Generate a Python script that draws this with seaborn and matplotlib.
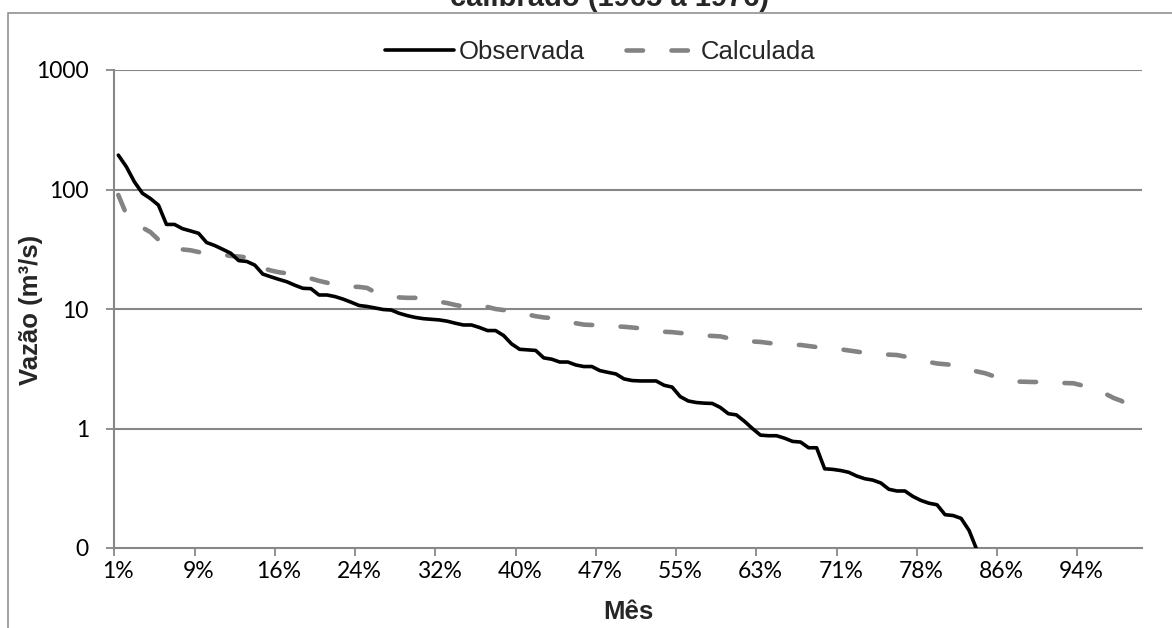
import matplotlib
matplotlib.use("Agg")
import matplotlib.pyplot as plt
import matplotlib.patches as mpatches
from matplotlib.ticker import FixedLocator, FixedFormatter, NullFormatter
import seaborn as sns
import pandas as pd

# ---------------- data ----------------
observada = [194, 155, 116, 93, 84, 74, 51, 51, 47, 45,
             43, 36, 34, 31.6, 29.3, 25.4, 25, 23.3, 19.6, 18.6,
             17.7, 16.9, 15.8, 14.9, 14.8, 13.1, 13.1, 12.7, 12.1, 11.4,
             10.7, 10.5, 10.2, 9.9, 9.8, 9.2, 8.8, 8.5, 8.3, 8.2,
             8.1, 7.9, 7.6, 7.35, 7.35, 7.0, 6.6, 6.6, 6.0, 5.1,
             4.6, 4.55, 4.5, 3.9, 3.8, 3.6, 3.6, 3.4, 3.3, 3.3,
             3.05, 2.95, 2.86, 2.6, 2.52, 2.5, 2.5, 2.5, 2.3, 2.22,
             1.85, 1.7, 1.65, 1.63, 1.62, 1.5, 1.33, 1.30, 1.15, 1.0,
             0.88, 0.87, 0.87, 0.83, 0.78, 0.77, 0.69, 0.69, 0.46, 0.455,
             0.445, 0.43, 0.40, 0.38, 0.37, 0.35, 0.31, 0.30, 0.30, 0.27,
             0.25, 0.237, 0.23, 0.19, 0.187, 0.177, 0.14, 0.095]

calculada = [90, 62, 52, 48, 44, 38, 33, 32, 31.5, 31,
             30, 29, 28.8, 28.5, 27.8, 27.5, 27, 26, 22, 21,
             20.3, 19.9, 19.5, 18.9, 18, 17.2, 16.6, 16, 15.5, 15.4,
             15.3, 15, 13.8, 13.2, 12.8, 12.5, 12.4, 12.4, 12.3, 12.0,
             11.5, 11.2, 10.8, 10.5, 10.6, 10.7, 10.4, 10.0, 9.8, 9.6,
             9.4, 9.0, 8.7, 8.5, 8.4, 8.2, 7.9, 7.6, 7.4, 7.35,
             7.3, 7.2, 7.15, 7.1, 7.0, 6.9, 6.7, 6.5, 6.45, 6.4,
             6.3, 6.2, 6.05, 6.0, 5.95, 5.9, 5.7, 5.45, 5.4, 5.35,
             5.3, 5.2, 5.1, 5.05, 5.0, 5.0, 4.9, 4.8, 4.75, 4.7,
             4.6, 4.5, 4.4, 4.3, 4.22, 4.18, 4.15, 4.12, 4.0, 3.85,
             3.7, 3.6, 3.5, 3.45, 3.4, 3.3, 3.1, 3.0, 2.9, 2.75,
             2.7, 2.6, 2.47, 2.46, 2.45, 2.45, 2.43, 2.41, 2.40, 2.39,
             2.3, 2.2, 2.03, 1.95, 1.8, 1.7, 1.5, 1.4]

x_tick_labels = ["1%", "9%", "16%", "24%", "32%", "40%", "47%",
                 "55%", "63%", "71%", "78%", "86%", "94%"]
y_tick_values = [0.1, 1, 10, 100, 1000]
y_tick_labels = ["0", "1", "10", "100", "1000"]

title_text = "calibrado (1965 a 1976)"
x_title = "Mês"
y_title = "Vazão (m³/s)"
series_names = ["Observada", "Calculada"]

# ---------------- plotting ----------------
sns.set_theme(style="white")
plt.rcParams["font.family"] = ["Liberation Sans", "DejaVu Sans"]

W, H = 1172, 628
fig = plt.figure(figsize=(W / 100, H / 100), dpi=100)
ax = fig.add_axes([114.3 / W, 1 - 548 / H, (1141.7 - 114.3) / W, (548 - 70) / H])

n_cat = len(calculada)
df_obs = pd.DataFrame({"cat": range(1, len(observada) + 1), "v": observada})
df_cal = pd.DataFrame({"cat": range(1, n_cat + 1), "v": calculada})

grid_col = "#878787"

sns.lineplot(data=df_obs, x="cat", y="v", ax=ax, color="black", lw=2.6,
             label=series_names[0], solid_joinstyle="round", zorder=4)
sns.lineplot(data=df_cal, x="cat", y="v", ax=ax, color="#838383", lw=3.3,
             label=series_names[1], zorder=3)
cal_line = ax.lines[-1]
cal_line.set_dashes((3.6, 6.2))
cal_line.set_dash_capstyle("round")

ax.set_yscale("log")
ax.set_ylim(0.1, 1000)
ax.set_xlim(0.5, n_cat + 0.5)

# y ticks
ax.yaxis.set_major_locator(FixedLocator(y_tick_values))
ax.yaxis.set_major_formatter(FixedFormatter(y_tick_labels))
ax.yaxis.set_minor_locator(FixedLocator([]))
ax.tick_params(axis="y", which="major", direction="out", length=5.8,
               width=1.3, color=grid_col, pad=12.5, labelsize=16.5,
               left=True)

# x ticks: labels at category 1, 11, ... ; tick marks between categories
label_pos = list(range(1, n_cat, 10))[:len(x_tick_labels)]
ax.xaxis.set_major_locator(FixedLocator(label_pos))
ax.xaxis.set_major_formatter(FixedFormatter(x_tick_labels))
ax.xaxis.set_minor_locator(FixedLocator([p - 0.5 for p in label_pos]))
ax.xaxis.set_minor_formatter(NullFormatter())
ax.tick_params(axis="x", which="major", length=0, pad=9, labelsize=16.5)
ax.tick_params(axis="x", which="minor", direction="out", length=5.5,
               width=1.3, color=grid_col, bottom=True)
for lab in ax.get_xticklabels() + ax.get_yticklabels():
    lab.set_fontfamily(["Lato", "DejaVu Sans"])
    lab.set_color("black")

# grid and spines
ax.grid(False)
for yv in y_tick_values[1:]:
    ax.axhline(yv, color=grid_col, lw=1.5, zorder=1)
ax.set_axisbelow(True)
for s in ["top", "right"]:
    ax.spines[s].set_visible(False)
for s in ["left", "bottom"]:
    ax.spines[s].set_color(grid_col)
    ax.spines[s].set_linewidth(1.5)

ax.set_xlabel("")
ax.set_ylabel("")

# axis titles
fig.text(31 / W, 1 - 310 / H, y_title, rotation=90, ha="center", va="center",
         fontsize=18.5, fontweight="bold")
fig.text(628 / W, 1 - 612 / H, x_title, ha="center", va="center",
         fontsize=18.5, fontweight="bold")

# title (cut off at top of image, as in the reference)
fig.text(610 / W, 1 - 6.5 / H, title_text, ha="center", va="baseline",
         fontsize=21, fontweight="bold")

# legend
leg = ax.legend(loc="center", bbox_to_anchor=(600 / W, 1 - 52 / H),
                bbox_transform=fig.transFigure, ncol=2, frameon=False,
                fontsize=18.5, handlelength=2.7, handletextpad=0.2,
                columnspacing=1.6)

# chart frame (extends beyond right and bottom of image)
frame = mpatches.Rectangle((7.5 / W, -0.2), 1.5, (H - 12.5) / H + 0.2,
                           transform=fig.transFigure, fill=False,
                           edgecolor=grid_col, lw=1.1, clip_on=False)
fig.patches.append(frame)

fig.savefig("out.png", dpi=100, facecolor="white")
